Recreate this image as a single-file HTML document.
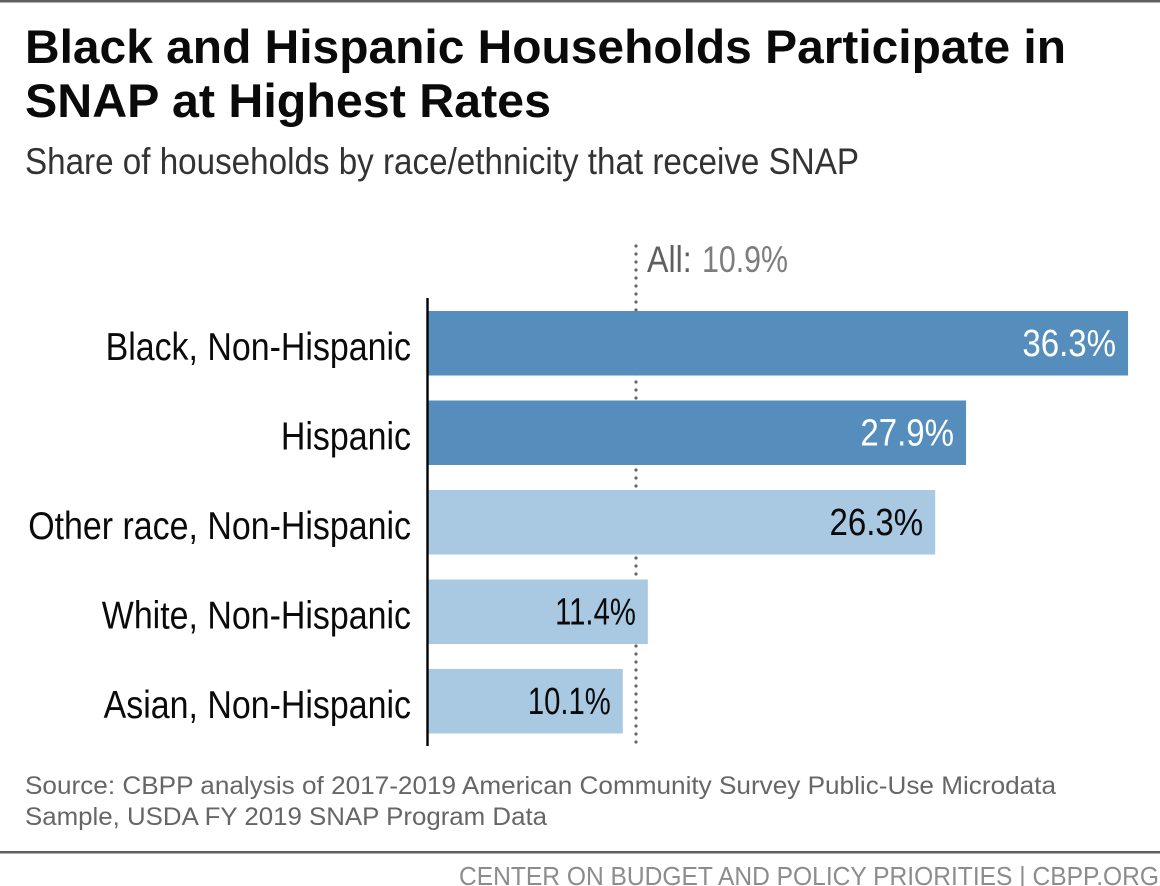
<!DOCTYPE html>
<html lang="en">
<head>
<meta charset="utf-8">
<title>Black and Hispanic Households Participate in SNAP at Highest Rates</title>
<style>
html,body{margin:0;padding:0;background:#fff;width:1160px;height:886px;overflow:hidden}
svg{display:block}
text{font-family:"Liberation Sans",sans-serif}
</style>
</head>
<body>
<svg id="chart" width="1160" height="886" viewBox="0 0 1160 886" xmlns="http://www.w3.org/2000/svg">
  <rect x="0" y="0" width="1160" height="886" fill="#ffffff"/>
  <rect x="0" y="0" width="1160" height="2.5" fill="#5f5f5f"/>
  <g font-weight="700" font-size="47" fill="#0a0a0a">
    <text x="25" y="63" textLength="1041" lengthAdjust="spacingAndGlyphs">Black and Hispanic Households Participate in</text>
    <text x="25" y="117" textLength="526" lengthAdjust="spacingAndGlyphs">SNAP at Highest Rates</text>
  </g>
  <text x="25" y="174" font-size="37" fill="#333333" textLength="834" lengthAdjust="spacingAndGlyphs">Share of households by race/ethnicity that receive SNAP</text>
  <g id="plot"></g>
  <g font-size="25" fill="#666666">
    <text x="25" y="794" textLength="1031" lengthAdjust="spacingAndGlyphs">Source: CBPP analysis of 2017-2019 American Community Survey Public-Use Microdata</text>
    <text x="25" y="825" textLength="522" lengthAdjust="spacingAndGlyphs">Sample, USDA FY 2019 SNAP Program Data</text>
  </g>
  <rect x="0" y="851" width="1160" height="2.5" fill="#5f5f5f"/>
  <text x="459" y="885" font-size="26" fill="#8c8c8c" textLength="700" lengthAdjust="spacingAndGlyphs">CENTER ON BUDGET AND POLICY PRIORITIES | CBPP.ORG</text>
</svg>
<script>
const categories = ["Black, Non-Hispanic", "Hispanic", "Other race, Non-Hispanic", "White, Non-Hispanic", "Asian, Non-Hispanic"];
const shares = [36.3, 27.9, 26.3, 11.4, 10.1];
const highlighted = [true, true, false, false, false];
const averageShare = 10.9;
const averageLabel = "All:";

const SVG_NS = "http://www.w3.org/2000/svg";
const plot = document.getElementById("plot");
const X0 = 428, PX_PER_UNIT = 19.285;
const BAND_TOP = 311, BAND_STEP = 89.5, BAR_H = 64.5;
const NARROW = 0.87;

function xScale(v) { return X0 + v * PX_PER_UNIT; }
function yScale(i) { return BAND_TOP + i * BAND_STEP; }
function make(tag, attrs) {
  const el = document.createElementNS(SVG_NS, tag);
  for (const k in attrs) el.setAttribute(k, attrs[k]);
  return el;
}
/* The reference face has a much narrower "1" than Liberation Sans. */
function numberScale(str) { return NARROW - 0.05 * (str.split("1").length - 1); }
function narrowText(str, x, baseline, size, fill, anchor, sx) {
  const t = make("text", {
    transform: "translate(" + x + " " + baseline + ") scale(" + sx + " 1)",
    "font-size": size, fill: fill, "text-anchor": anchor
  });
  t.textContent = str;
  return t;
}

const ax = xScale(averageShare) - 2.2;
const refLine = make("line", {
  x1: ax, x2: ax, y1: 246, y2: 744,
  stroke: "#666666", "stroke-width": 3.2, "stroke-dasharray": "0 8", "stroke-linecap": "round"
});


plot.appendChild(refLine);

const avgKey = narrowText(averageLabel, ax + 11, 272, 37, "#5f5f5f", "start", NARROW);


plot.appendChild(avgKey);

const avgText = averageShare.toFixed(1) + "%";
const avgValue = narrowText(avgText, ax + 66, 272, 37, "#7d7d7d", "start", numberScale(avgText));


plot.appendChild(avgValue);

categories.forEach(function (name, i) {
  const y = yScale(i);
  const bar = make("rect", {
    x: X0, y: y, width: xScale(shares[i]) - X0, height: BAR_H,
    fill: highlighted[i] ? "#558ebd" : "#a9c8e1"
  });
  
  
  plot.appendChild(bar);

  const cat = narrowText(name, 411, y + 49, 39, "#0a0a0a", "end", NARROW);
  
  
  plot.appendChild(cat);

  const valText = shares[i].toFixed(1) + "%";
  const val = narrowText(valText, xScale(shares[i]) - 12, y + 45, 38,
    highlighted[i] ? "#ffffff" : "#0a0a0a", "end", numberScale(valText));
  
  
  plot.appendChild(val);
});

const axis = make("line", { x1: 427.5, x2: 427.5, y1: 298, y2: 746, stroke: "#000000", "stroke-width": 2.4 });


plot.appendChild(axis);
</script>
</body>
</html>
